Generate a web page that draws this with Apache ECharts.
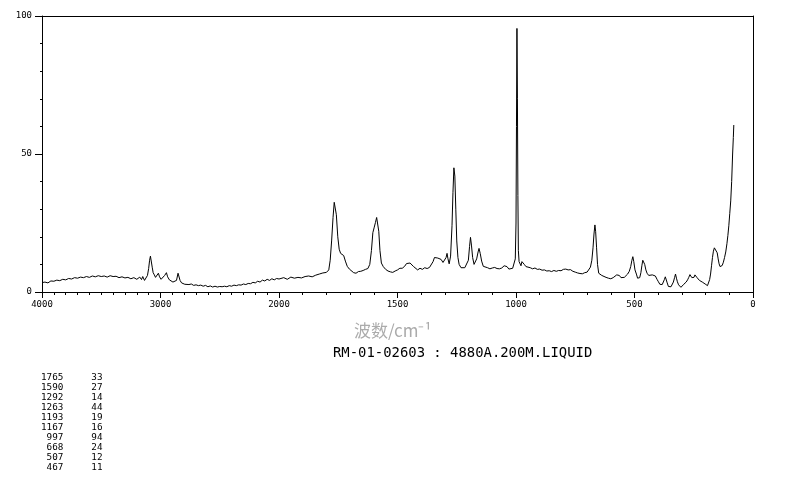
<!DOCTYPE html>
<html>
<head>
<meta charset="utf-8">
<script src="https://cdn.jsdelivr.net/npm/echarts@6/dist/echarts.min.js"></script>
<style>
html,body{margin:0;padding:0;background:#fff;}
#chart{width:794px;height:482px;}
</style>
</head>
<body>
<div id="chart"></div>
<script>
// High-wavenumber segment (4000 -> 2000 cm-1), compressed scale
var wavenumbersHigh = [4000,3975,3950,3925,3900,3875,3850,3825,3800,3775,3750,3725,3700,3675,3650,3625,3600,3575,3550,3525,3500,3475,3450,3425,3400,3375,3350,3325,3300,3275,3250,3225,3200,3175,3160,3150,3135,3120,3110,3100,3092,3085,3078,3070,3062,3052,3042,3030,3018,3008,2995,2985,2965,2950,2940,2925,2910,2895,2880,2865,2852,2845,2835,2822,2810,2795,2780,2760,2740,2720,2700,2680,2660,2640,2620,2600,2580,2560,2540,2520,2500,2480,2460,2440,2420,2400,2380,2360,2340,2320,2300,2280,2260,2240,2220,2200,2180,2160,2140,2120,2100,2080,2060,2040,2020,2000];
var intensitiesHigh = [3.4,3.6,3.3,4.0,3.9,4.3,4.1,4.6,4.4,4.9,4.7,5.2,5.0,5.4,5.2,5.6,5.3,5.8,5.5,5.9,5.6,5.8,5.4,5.9,5.6,5.7,5.2,5.5,5.1,5.3,4.8,5.2,4.6,5.4,4.5,5.6,4.2,4.4,6.0,8.5,11.5,13.0,12.5,9.0,7.0,6.2,5.3,6.0,6.8,5.5,4.6,5.2,6.0,7.0,5.5,4.4,3.8,3.6,3.5,4.2,6.8,6.2,4.2,3.3,3.1,2.8,3.0,2.7,2.9,2.4,2.6,2.3,2.5,2.1,2.4,1.9,2.2,1.8,2.1,1.8,2.0,1.9,2.1,1.9,2.3,2.1,2.5,2.3,2.6,2.5,2.9,2.7,3.1,3.0,3.5,3.3,3.9,3.6,4.3,4.0,4.6,4.2,4.8,4.4,4.9,4.7];

// Low-wavenumber segment (2000 -> 80 cm-1), expanded scale
var wavenumbersLow = [2000,1980,1965,1950,1935,1920,1905,1890,1875,1860,1845,1830,1815,1800,1790,1784,1778,1772,1767,1763,1758,1752,1746,1740,1733,1727,1720,1712,1703,1695,1685,1675,1665,1655,1645,1635,1625,1617,1610,1604,1598,1593,1588,1584,1579,1574,1568,1560,1550,1540,1530,1520,1510,1500,1490,1480,1470,1462,1455,1447,1440,1432,1424,1415,1405,1395,1385,1375,1365,1357,1350,1344,1337,1330,1323,1316,1308,1301,1295,1291,1287,1282,1276,1270,1266,1262,1258,1254,1250,1245,1240,1232,1224,1216,1208,1201,1196,1192,1188,1183,1177,1172,1166,1160,1156,1151,1145,1138,1130,1120,1110,1100,1090,1080,1070,1060,1050,1045,1038,1030,1022,1014,1008,1003,1000,998,996,994,992,990,987,983,979,975,970,965,958,950,940,930,920,910,900,890,880,870,860,850,840,830,820,810,800,790,780,770,760,750,740,730,720,710,700,693,686,680,675,671,667,664,660,656,651,645,638,630,620,610,600,590,582,575,570,564,557,550,543,536,529,522,516,511,507,503,498,492,487,483,478,473,469,465,461,457,452,447,440,433,425,418,412,405,399,393,388,383,378,374,370,366,362,357,352,346,341,336,331,327,323,319,314,309,304,298,292,287,282,276,271,266,262,258,254,249,245,240,236,231,226,220,214,208,202,197,192,187,183,179,175,171,167,163,159,155,151,147,143,139,134,130,125,120,115,110,106,102,98,94,90,86,83,81];
var intensitiesLow = [4.7,5.2,4.6,5.4,5.0,5.3,5.1,5.6,5.8,5.5,6.1,6.5,6.9,7.1,8.0,11.5,18.5,27.0,32.5,33.0,28.0,20.0,15.5,14.0,13.8,13.2,11.2,9.3,8.3,7.8,7.0,6.8,7.4,7.5,7.8,8.2,8.5,10.0,15.0,21.5,23.5,25.2,27.0,26.5,22.0,15.0,10.5,9.2,8.2,7.6,7.3,7.1,7.6,8.0,8.6,8.6,9.3,10.3,10.8,10.5,10.0,9.2,8.5,8.0,8.6,8.2,8.8,8.5,8.9,9.2,11.0,12.5,12.0,12.3,13.0,11.8,10.7,10.2,12.5,14.0,12.0,10.2,13.0,24.0,36.0,45.0,42.0,30.0,18.5,12.5,10.0,8.8,8.6,8.8,9.5,11.5,16.5,19.8,17.0,12.5,10.0,10.0,12.0,14.5,15.8,14.0,11.2,9.3,8.6,8.8,8.4,8.7,8.9,8.5,8.4,8.7,9.5,10.0,9.2,8.3,8.1,8.6,9.0,12.0,25.0,60.0,95.5,70.0,35.0,15.0,11.0,10.5,9.5,11.0,10.5,10.0,9.2,9.0,8.8,8.4,8.7,8.2,8.3,7.9,8.0,7.6,7.7,7.4,7.8,7.5,7.8,7.7,8.2,8.3,8.0,8.1,7.5,7.2,6.9,6.7,6.6,7.0,7.2,7.6,9.0,11.5,16.0,21.0,24.3,22.0,16.0,10.0,6.8,6.4,6.0,5.6,5.3,5.0,4.8,5.2,5.4,6.2,6.8,6.0,5.2,5.0,5.3,5.8,6.5,7.5,9.2,11.5,12.8,11.0,8.0,6.5,5.0,4.4,5.2,7.0,9.5,11.5,11.8,10.0,8.0,6.8,6.0,5.6,6.2,6.4,5.8,4.6,3.7,2.8,2.2,2.7,3.3,4.5,5.5,4.8,3.3,2.0,1.7,1.9,2.4,3.6,5.2,6.5,5.0,3.7,2.6,2.0,1.7,2.2,2.8,3.1,3.6,4.4,5.3,6.3,6.2,5.2,4.6,5.3,6.2,5.9,5.2,4.8,4.2,4.0,3.6,3.2,2.9,2.5,2.3,3.0,4.5,6.5,9.5,12.5,14.8,16.0,16.4,15.8,14.2,12.0,10.2,9.2,9.0,9.6,10.8,12.5,14.5,17.5,20.5,24.0,28.5,33.0,40.0,50.0,56.0,60.5];

// Peak table
var peakPositions = [1765,1590,1292,1263,1193,1167,997,668,507,467];
var peakIntensities = [33,27,14,44,19,16,94,24,12,11];

// Tick labels / texts
var xLabelsHigh = [4000,3000,2000];
var xLabelsLow = [1500,1000,500,0];
var yLabels = [0,50,100];
var xAxisTitle = '波数/cm⁻¹';
var sampleTitle = 'RM-01-02603 : 4880A.200M.LIQUID';

function zip(a,b){var r=[];for(var i=0;i<a.length;i++){r.push([a[i],b[i]]);}return r;}
function pad(s,n){s=String(s);while(s.length<n){s=' '+s;}return s;}
var tableText = peakPositions.map(function(p,i){return pad(p,4)+pad(peakIntensities[i],7);}).join('\n');

var mono = 'DejaVu Sans Mono';
var black = '#000';
var chart = echarts.init(document.getElementById('chart'), null, {renderer:'canvas'});
chart.setOption({
  animation:false,
  backgroundColor:'#fff',
  title:[
    {text:xAxisTitle,left:354,top:322,padding:0,textStyle:{fontFamily:'Noto Sans CJK SC',fontSize:17,fontWeight:'normal',color:'#ababab',lineHeight:18}},
    {text:sampleTitle,left:333,top:346,padding:0,textStyle:{fontFamily:mono,fontSize:13.9,fontWeight:'normal',color:black,lineHeight:14}},
    {text:tableText,left:41,top:373,padding:0,textStyle:{fontFamily:mono,fontSize:9.3,fontWeight:'normal',color:black,lineHeight:10}}
  ],
  grid:[
    {left:42,top:16,width:237,height:276},
    {left:279,top:16,width:474,height:276}
  ],
  xAxis:[
    {gridIndex:0,type:'value',min:2000,max:4000,interval:1000,inverse:true,position:'bottom',
     axisLine:{show:true,onZero:false,lineStyle:{color:black,width:1}},
     axisTick:{show:true,length:6,lineStyle:{color:black}},
     minorTick:{show:true,splitNumber:10,length:3,lineStyle:{color:black}},
     splitLine:{show:false},minorSplitLine:{show:false},
     axisLabel:{color:black,fontFamily:mono,fontSize:9,margin:8,
       formatter:function(v){return xLabelsHigh.indexOf(v)>=0?String(v):'';}}},
    {gridIndex:1,type:'value',min:0,max:2000,interval:500,inverse:true,position:'bottom',
     axisLine:{show:true,onZero:false,lineStyle:{color:black,width:1}},
     axisTick:{show:true,length:6,lineStyle:{color:black}},
     minorTick:{show:true,splitNumber:5,length:3,lineStyle:{color:black}},
     splitLine:{show:false},minorSplitLine:{show:false},
     axisLabel:{color:black,fontFamily:mono,fontSize:9,margin:8,
       formatter:function(v){return xLabelsLow.indexOf(v)>=0?String(v):'';}}},
    {gridIndex:0,type:'value',min:2000,max:4000,inverse:true,position:'top',
     axisLine:{show:true,onZero:false,lineStyle:{color:black,width:1}},
     axisTick:{show:false},axisLabel:{show:false},splitLine:{show:false}},
    {gridIndex:1,type:'value',min:0,max:2000,inverse:true,position:'top',
     axisLine:{show:true,onZero:false,lineStyle:{color:black,width:1}},
     axisTick:{show:false},axisLabel:{show:false},splitLine:{show:false}}
  ],
  yAxis:[
    {gridIndex:0,type:'value',min:0,max:100,interval:50,position:'left',
     axisLine:{show:true,onZero:false,lineStyle:{color:black,width:1}},
     axisTick:{show:true,length:7,lineStyle:{color:black}},
     minorTick:{show:true,splitNumber:5,length:2,lineStyle:{color:black}},
     splitLine:{show:false},minorSplitLine:{show:false},
     axisLabel:{color:black,fontFamily:mono,fontSize:9,margin:10,
       formatter:function(v){return yLabels.indexOf(v)>=0?String(v):'';}}},
    {gridIndex:1,type:'value',min:0,max:100,position:'right',
     axisLine:{show:true,onZero:false,lineStyle:{color:black,width:1}},
     axisTick:{show:false},axisLabel:{show:false},splitLine:{show:false}}
  ],
  series:[
    {type:'line',xAxisIndex:0,yAxisIndex:0,data:zip(wavenumbersHigh,intensitiesHigh),
     showSymbol:false,symbol:'none',smooth:false,lineStyle:{color:black,width:1}},
    {type:'line',xAxisIndex:1,yAxisIndex:1,data:zip(wavenumbersLow,intensitiesLow),
     showSymbol:false,symbol:'none',smooth:false,lineStyle:{color:black,width:1}}
  ]
});
</script>
</body>
</html>
